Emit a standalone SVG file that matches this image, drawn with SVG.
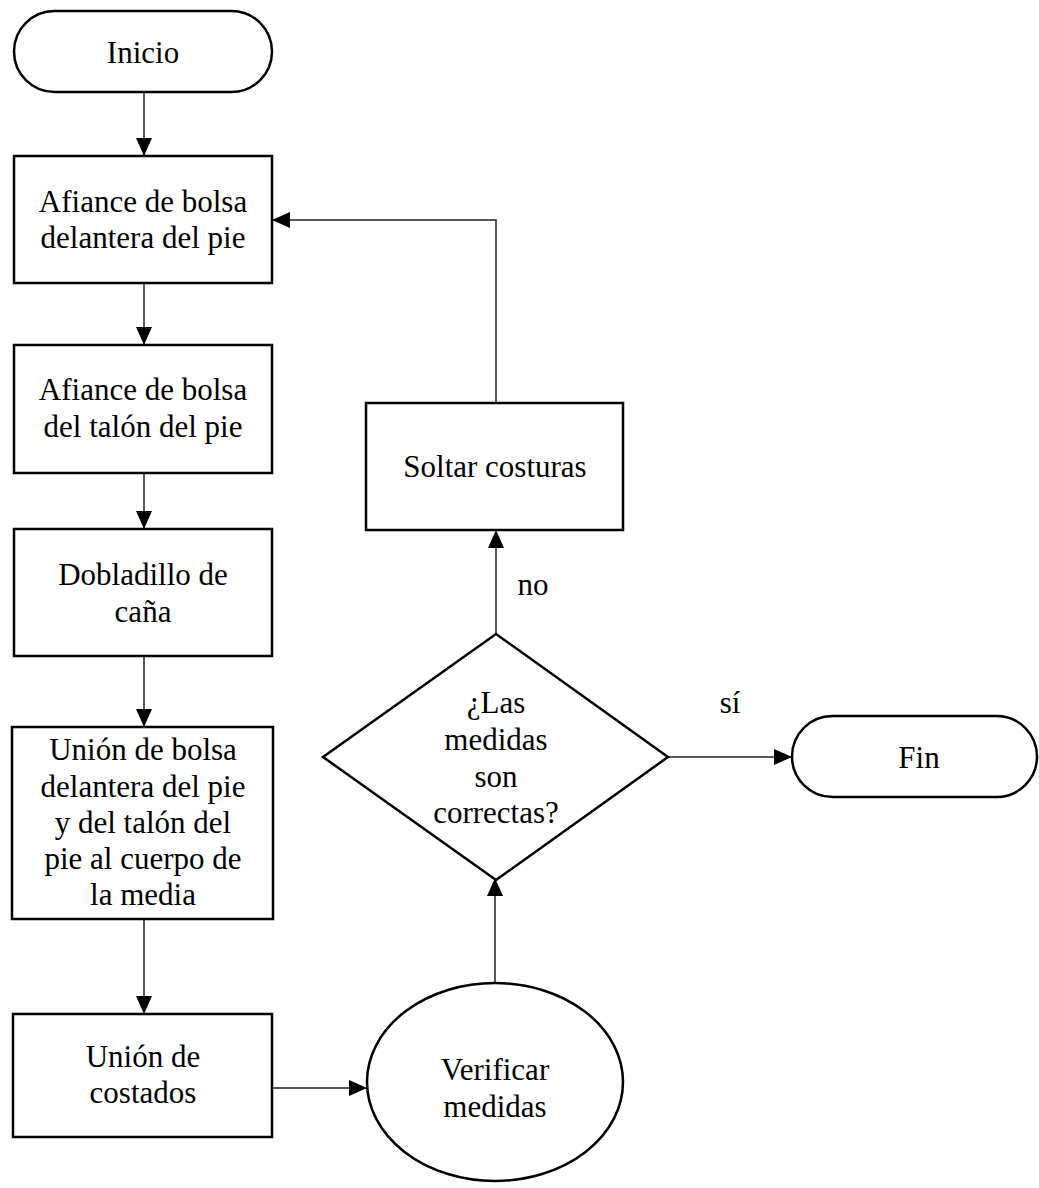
<svg xmlns="http://www.w3.org/2000/svg" width="1039" height="1188" viewBox="0 0 1039 1188">
<style>
.s{fill:#fff;stroke:#000;stroke-width:2.5}
.t{font-family:"Liberation Serif","Times New Roman",serif;font-size:31px;fill:#000;text-anchor:middle}
.c{fill:none;stroke:#222;stroke-width:1.5}
</style>
<defs>
<marker id="ah" markerUnits="userSpaceOnUse" markerWidth="18" markerHeight="16" refX="18" refY="8" orient="auto">
<path d="M0,0 L18,8 L0,16 Z" fill="#000"/>
</marker>
</defs>
<rect width="1039" height="1188" fill="#fff"/>
<g id="connectors">
<path class="c" d="M144,93 V156" marker-end="url(#ah)"/>
<path class="c" d="M144,283 V345" marker-end="url(#ah)"/>
<path class="c" d="M144,473 V529" marker-end="url(#ah)"/>
<path class="c" d="M144,656 V727" marker-end="url(#ah)"/>
<path class="c" d="M144,919 V1014" marker-end="url(#ah)"/>
<path class="c" d="M272,1088 H367" marker-end="url(#ah)"/>
<path class="c" d="M495,983 V878" marker-end="url(#ah)"/>
<path class="c" d="M496,634 V530" marker-end="url(#ah)"/>
<path class="c" d="M496,403 V220 H272" marker-end="url(#ah)"/>
<path class="c" d="M668,757 H792" marker-end="url(#ah)"/>
<text class="t" x="533" y="595">no</text>
<text class="t" x="730" y="713">sí</text>
</g>
<g id="inicio">
<rect class="s" x="14" y="11" width="258" height="81" rx="40.5"/>
<text class="t" x="143" y="63">Inicio</text>
</g>
<g id="afiance-delantera">
<rect class="s" x="14" y="156" width="258" height="127"/>
<text class="t" x="143" y="212">Afiance de bolsa</text>
<text class="t" x="143" y="248">delantera del pie</text>
</g>
<g id="afiance-talon">
<rect class="s" x="14" y="345" width="258" height="128"/>
<text class="t" x="143" y="400">Afiance de bolsa</text>
<text class="t" x="143" y="437">del talón del pie</text>
</g>
<g id="dobladillo">
<rect class="s" x="14" y="529" width="258" height="127"/>
<text class="t" x="143" y="585">Dobladillo de</text>
<text class="t" x="143" y="622">caña</text>
</g>
<g id="union-bolsa">
<rect class="s" x="12" y="727" width="261" height="192"/>
<text class="t" x="143" y="760">Unión de bolsa</text>
<text class="t" x="143" y="797">delantera del pie</text>
<text class="t" x="143" y="833">y del talón del</text>
<text class="t" x="143" y="869">pie al cuerpo de</text>
<text class="t" x="143" y="905">la media</text>
</g>
<g id="union-costados">
<rect class="s" x="13" y="1014" width="259" height="123"/>
<text class="t" x="143" y="1067">Unión de</text>
<text class="t" x="143" y="1103">costados</text>
</g>
<g id="verificar">
<ellipse class="s" cx="495" cy="1082" rx="128" ry="99"/>
<text class="t" x="495" y="1080">Verificar</text>
<text class="t" x="495" y="1117">medidas</text>
</g>
<g id="decision">
<polygon class="s" points="496,634 668,757 496,880 323,757"/>
<text class="t" x="496" y="713">¿Las</text>
<text class="t" x="496" y="750">medidas</text>
<text class="t" x="496" y="787">son</text>
<text class="t" x="496" y="823">correctas?</text>
</g>
<g id="soltar">
<rect class="s" x="366" y="403" width="257" height="127"/>
<text class="t" x="495" y="477">Soltar costuras</text>
</g>
<g id="fin">
<rect class="s" x="792" y="716" width="245" height="81" rx="40.5"/>
<text class="t" x="919" y="768">Fin</text>
</g>
</svg>
